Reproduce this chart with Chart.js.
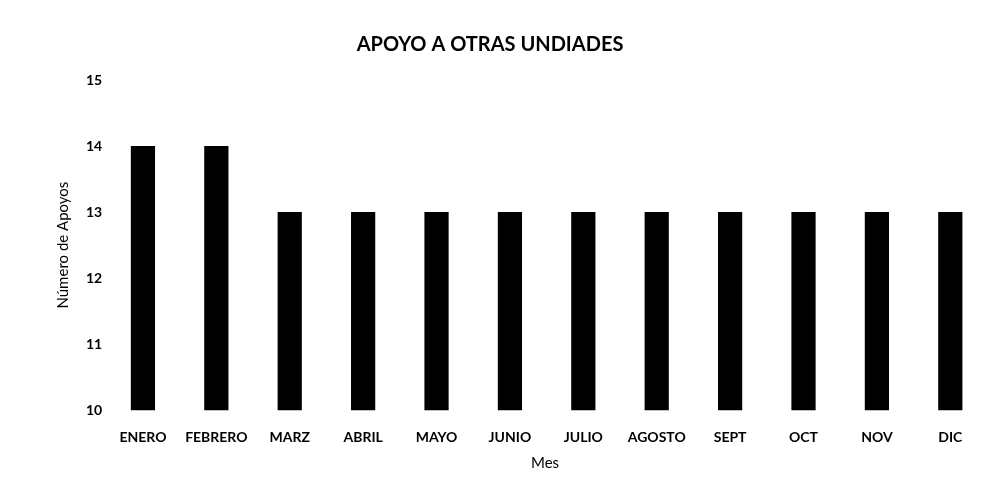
<!DOCTYPE html>
<html>
<head>
<meta charset="utf-8">
<title>Apoyo a otras unidades</title>
<script src="https://cdn.jsdelivr.net/npm/chart.js@4.4.1/dist/chart.umd.min.js"></script>
<style>
  html, body { margin: 0; padding: 0; background: #fff; overflow: hidden; }
  #wrap { width: 987px; height: 483px; position: relative; }
</style>
</head>
<body>
<div id="wrap"><canvas id="chart"></canvas></div>
<script>
const meses = ['ENERO', 'FEBRERO', 'MARZ', 'ABRIL', 'MAYO', 'JUNIO', 'JULIO', 'AGOSTO', 'SEPT', 'OCT', 'NOV', 'DIC'];
const apoyos = [14, 14, 13, 13, 13, 13, 13, 13, 13, 13, 13, 13];
const yTicks = [10, 11, 12, 13, 14, 15];

const FONT = 'Lato, "Open Sans", sans-serif';

// titles are placed by hand: the chart title sits over the page, not the plot
const textLabels = {
    id: 'textLabels',
    afterDraw(chart) {
        const ctx = chart.ctx;
        const area = chart.chartArea;
        ctx.save();
        ctx.fillStyle = '#000';
        ctx.textAlign = 'center';
        ctx.textBaseline = 'middle';

        ctx.font = 'bold 20px ' + FONT;
        ctx.fillText('APOYO A OTRAS UNDIADES', 490, 45);

        ctx.font = '15px ' + FONT;
        ctx.fillText('Mes', 545, 463);

        ctx.translate(63, (area.top + area.bottom) / 2);
        ctx.rotate(-Math.PI / 2);
        ctx.fillText('Número de Apoyos', 0, 0);
        ctx.restore();
    }
};

new Chart(document.getElementById('chart'), {
    type: 'bar',
    data: {
        labels: meses,
        datasets: [{
            label: 'Número de Apoyos',
            data: apoyos,
            backgroundColor: '#000',
            borderWidth: 0,
            barPercentage: 0.33,
            categoryPercentage: 1
        }]
    },
    options: {
        responsive: true,
        maintainAspectRatio: false,
        animation: false,
        layout: { padding: { left: 82, right: 0, top: 80, bottom: 18 } },
        plugins: {
            legend: { display: false },
            tooltip: { enabled: false },
            title: { display: false }
        },
        scales: {
            x: {
                grid: { display: false, drawTicks: false },
                border: { display: false },
                ticks: {
                    color: '#000',
                    font: { family: FONT, size: 14, weight: 'bold' },
                    padding: 19,
                    maxRotation: 0
                }
            },
            y: {
                min: 10,
                max: 15,
                afterBuildTicks: axis => { axis.ticks = yTicks.map(v => ({ value: v })); },
                grid: { display: false, drawTicks: false },
                border: { display: false },
                ticks: {
                    color: '#000',
                    font: { family: FONT, size: 14, weight: 'bold' },
                    padding: 4
                }
            }
        }
    },
    plugins: [textLabels]
});
</script>
</body>
</html>
